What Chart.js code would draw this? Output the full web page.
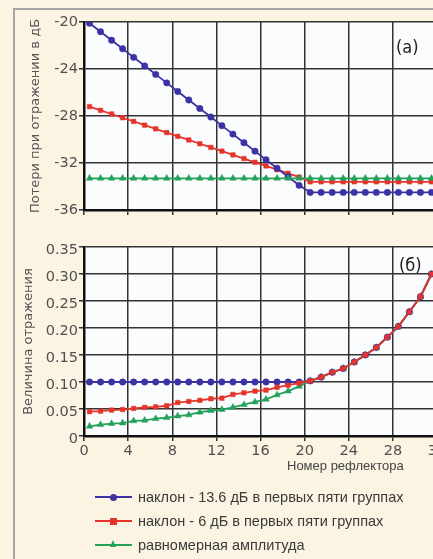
<!DOCTYPE html>
<html>
<head>
<meta charset="utf-8">
<script src="https://cdn.jsdelivr.net/npm/chart.js"></script>
<style>
  html, body { margin: 0; padding: 0; overflow: hidden; }
  body { width: 433px; height: 559px; background: #fcf4e3; position: relative; font-family: 'Liberation Sans', Arial, sans-serif; }
  .frame { position: absolute; left: 13px; top: 8px; width: 440px; height: 570px; border-left: 2px solid #a5a5a5; border-top: 2px solid #a5a5a5; }
  canvas { position: absolute; left: 0; }
  #lossChart { top: 0; }
  #ampChart { top: 230px; }
  .tag { position: absolute; font-family: 'Liberation Sans Narrow', 'DejaVu Sans Condensed', sans-serif; font-size: 18px; color: #222; }
  .xtitle { position: absolute; left: 287px; top: 458px; font-size: 13px; color: #444; }
  .leg-line { position: absolute; left: 95px; width: 37px; height: 2px; }
  .leg-mark { position: absolute; }
  .leg-text { position: absolute; left: 138px; font-size: 14.5px; line-height: 16px; color: #3a3a3a; white-space: nowrap; }
</style>
</head>
<body>
<div class="frame"></div>
<canvas id="lossChart" width="460" height="220"></canvas>
<canvas id="ampChart" width="460" height="231"></canvas>
<div class="tag" style="left:396px; top:36px;">(a)</div>
<div class="tag" style="left:399px; top:254px;">(б)</div>
<div class="xtitle">Номер рефлектора</div>
<div id="legend"></div>

<script>
// reflector positions along x
const reflector = [0.5, 1.5, 2.5, 3.5, 4.5, 5.5, 6.5, 7.5, 8.5, 9.5, 10.5, 11.5, 12.5, 13.5, 14.5, 15.5,
  16.5, 17.5, 18.5, 19.5, 20.5, 21.5, 22.5, 23.5, 24.5, 25.5, 26.5, 27.5, 28.5, 29.5, 30.5, 31.5];

const seriesNames = ['наклон - 13.6 дБ в первых пяти группах', 'наклон - 6 дБ в первых пяти группах', 'равномерная амплитуда'];

// (a) return loss, dB
const lossSteep = [-20.1, -20.83, -21.55, -22.28, -23.01, -23.73, -24.46, -25.18, -25.91, -26.64, -27.36, -28.09,
  -28.82, -29.54, -30.27, -30.99, -31.72, -32.45, -33.17, -33.9, -34.5, -34.5, -34.5, -34.5,
  -34.5, -34.5, -34.5, -34.5, -34.5, -34.5, -34.5, -34.5];
const lossMild = [-27.2, -27.52, -27.83, -28.15, -28.46, -28.78, -29.09, -29.41, -29.73, -30.04, -30.36, -30.67,
  -30.99, -31.31, -31.62, -31.94, -32.25, -32.57, -32.88, -33.2, -33.6, -33.6, -33.6, -33.6,
  -33.6, -33.6, -33.6, -33.6, -33.6, -33.6, -33.6, -33.6];
const lossUniform = [-33.3, -33.3, -33.3, -33.3, -33.3, -33.3, -33.3, -33.3, -33.3, -33.3, -33.3, -33.3,
  -33.3, -33.3, -33.3, -33.3, -33.3, -33.3, -33.3, -33.3, -33.3, -33.3, -33.3, -33.3,
  -33.3, -33.3, -33.3, -33.3, -33.3, -33.3, -33.3, -33.3];

// (б) reflection magnitude
const ampSteep = [0.10, 0.10, 0.10, 0.10, 0.10, 0.10, 0.10, 0.10, 0.10, 0.10, 0.10, 0.10,
  0.10, 0.10, 0.10, 0.10, 0.10, 0.10, 0.10, 0.10, 0.102, 0.109, 0.118, 0.125,
  0.137, 0.150, 0.164, 0.183, 0.203, 0.230, 0.258, 0.300];
const ampMild = [0.045, 0.046, 0.048, 0.049, 0.051, 0.053, 0.054, 0.056, 0.062, 0.064, 0.066, 0.069,
  0.070, 0.077, 0.080, 0.083, 0.085, 0.090, 0.094, 0.098, 0.102, 0.109, 0.118, 0.125,
  0.137, 0.150, 0.164, 0.183, 0.203, 0.230, 0.258, 0.300];
const ampUniform = [0.018, 0.021, 0.023, 0.024, 0.028, 0.029, 0.032, 0.034, 0.037, 0.039, 0.044, 0.047,
  0.049, 0.053, 0.058, 0.063, 0.068, 0.076, 0.083, 0.092, 0.102, 0.109, 0.118, 0.125,
  0.137, 0.150, 0.164, 0.183, 0.203, 0.230, 0.258, 0.300];

const colors = ['#3b33a3', '#e5352b', '#22a25a'];
const markers = ['circle', 'rect', 'triangle'];

// white plot area
const plotBg = {
  id: 'plotBg',
  beforeDraw(chart) {
    const a = chart.chartArea;
    const ctx = chart.ctx;
    ctx.save();
    ctx.fillStyle = '#fafcfe';
    ctx.fillRect(a.left, a.top, a.right - a.left, a.bottom - a.top);
    ctx.restore();
  }
};

function makeSet(i, values, order) {
  return {
    label: seriesNames[i],
    data: values.map((v, k) => ({ x: reflector[k], y: v })),
    borderColor: colors[i],
    backgroundColor: colors[i],
    pointBackgroundColor: colors[i],
    pointBorderColor: colors[i],
    pointStyle: markers[i],
    pointRadius: i === 2 ? 3.8 : 3.2,
    pointBorderWidth: 0.5,
    borderWidth: 1.8,
    tension: 0,
    order: order
  };
}

const tickFont = { family: "'DejaVu Sans', Verdana, sans-serif", size: 14.5 };
const gridCfg = { color: '#333', lineWidth: 1.5, tickLength: 5 };
const borderCfg = { color: '#111', width: 2.5 };

function setupChart(canvas, sets, yOpts, showX, xHeight, padTop) {
  return new Chart(canvas, {
    type: 'line',
    data: { datasets: sets },
    options: {
      responsive: false,
      animation: false,
      layout: { padding: { left: 0, right: 23, top: padTop, bottom: 0 } },
      plugins: { legend: { display: false }, tooltip: { enabled: false } },
      scales: {
        x: {
          type: 'linear', min: 0, max: 32,
          ticks: { stepSize: 4, display: showX, color: '#505050', font: tickFont, padding: 2 },
          grid: gridCfg,
          border: borderCfg,
          afterFit(s) { s.height = xHeight; }
        },
        y: Object.assign({
          grid: gridCfg,
          border: borderCfg,
          afterFit(s) { s.width = 84; }
        }, yOpts)
      }
    },
    plugins: [plotBg]
  });
}

setupChart(document.getElementById('lossChart'),
  [makeSet(0, lossSteep, 1), makeSet(1, lossMild, 2), makeSet(2, lossUniform, 0)],
  {
    min: -36, max: -20,
    ticks: { stepSize: 4, color: '#505050', font: tickFont, padding: 1 },
    title: { display: true, text: 'Потери при отражении в дБ', color: '#555',
      font: { family: "'DejaVu Sans', Verdana, sans-serif", size: 13 }, padding: { top: 28 } }
  }, false, 10, 22);

setupChart(document.getElementById('ampChart'),
  [makeSet(0, ampSteep, 1), makeSet(1, ampMild, 0), makeSet(2, ampUniform, 2)],
  {
    min: 0, max: 0.35,
    ticks: { stepSize: 0.05, color: '#505050', font: tickFont, padding: 1, labelOffset: 3,
      callback: v => v === 0 ? '0' : v.toFixed(2) },
    title: { display: true, text: 'Величина отражения', color: '#555',
      font: { family: "'DejaVu Sans', Verdana, sans-serif", size: 13 }, padding: { top: 21 } }
  }, true, 25, 17);

// legend below the charts
const legendRows = [497, 521, 545];
const legend = document.getElementById('legend');
seriesNames.forEach((name, i) => {
  const cy = legendRows[i];
  const line = document.createElement('div');
  line.className = 'leg-line';
  line.style.top = (cy - 1) + 'px';
  line.style.background = colors[i];
  legend.appendChild(line);

  const mark = document.createElement('div');
  mark.className = 'leg-mark';
  if (markers[i] === 'circle') {
    mark.style.cssText = `left:110px; top:${cy - 3.5}px; width:7px; height:7px; border-radius:50%; background:${colors[i]};`;
  } else if (markers[i] === 'rect') {
    mark.style.cssText = `left:110px; top:${cy - 3.5}px; width:7px; height:7px; background:${colors[i]};`;
  } else {
    mark.style.cssText = `left:110px; top:${cy - 5}px; width:0; height:0; border-left:3.5px solid transparent; border-right:3.5px solid transparent; border-bottom:7px solid ${colors[i]};`;
  }
  legend.appendChild(mark);

  const text = document.createElement('div');
  text.className = 'leg-text';
  text.style.top = (cy - 8) + 'px';
  text.textContent = name;
  legend.appendChild(text);
});
</script>
</body>
</html>
